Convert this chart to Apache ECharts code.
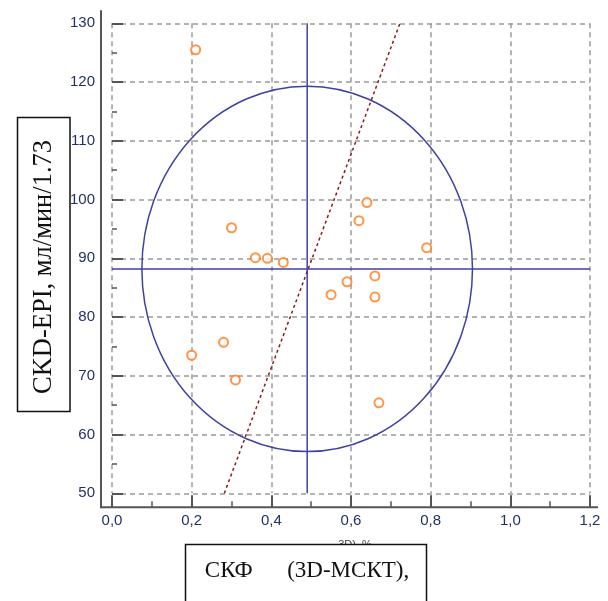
<!DOCTYPE html>
<html><head><meta charset="utf-8">
<script src="https://cdn.jsdelivr.net/npm/echarts@6/dist/echarts.min.js"></script>
<style>html,body{margin:0;padding:0;background:#fff}#c{width:608px;height:601px}</style>
</head><body><div id="c"></div>
<script>
// data
const xValues = [0.21, 0.30, 0.36, 0.39, 0.43, 0.64, 0.62, 0.79, 0.66, 0.59, 0.55, 0.66, 0.20, 0.28, 0.31, 0.67];
const yValues = [125.5, 95.2, 90.1, 90.0, 89.3, 99.5, 96.4, 91.8, 87.0, 86.0, 83.8, 83.4, 73.5, 75.7, 69.3, 65.4];
const xTickLabels = ['0,0', '0,2', '0,4', '0,6', '0,8', '1,0', '1,2'];
const yTickLabels = ['50', '60', '70', '80', '90', '100', '110', '120', '130'];
const ellipseCenter = [0.49, 88.2];
const ellipseRadii = [0.415, 31.1];
const meanXLine = [[0.49, 50], [0.49, 130]];
const meanYLine = [[0, 88.2], [1.2, 88.2]];
const regressionLine = [[0.282, 50], [0.723, 130]];
const yTitle = 'CKD-EPI, мл/мин/1.73';
const xTitle = 'СКФ      (3D-МСКТ),';
const xHiddenTitle = '3D), %';

const points = xValues.map((x, i) => [x, yValues[i]]);
const chart = echarts.init(document.getElementById('c'), null, {renderer: 'canvas'});
const tickColor = '#555';
const labelColor = '#22306a';
const gridStyle = {color: '#9a9a9a', type: [5, 4], width: 1.5};

chart.setOption({
  animation: false,
  backgroundColor: '#fff',
  grid: {left: 112, right: 18, top: 23.3, bottom: 107.7},
  xAxis: {
    type: 'value', min: 0, max: 1.2, interval: 0.2, offset: 14,
    axisLine: {show: false},
    axisTick: {inside: true, length: 12, lineStyle: {color: tickColor, width: 2}},
    minorTick: {show: true, splitNumber: 2, length: 6, lineStyle: {color: tickColor, width: 1.5}},
    axisLabel: {color: labelColor, fontSize: 15, fontFamily: 'Liberation Sans', margin: 6,
      formatter: v => xTickLabels[Math.round(v / 0.2)]},
    splitLine: {show: true, lineStyle: gridStyle}
  },
  yAxis: {
    type: 'value', min: 50, max: 130, interval: 10, offset: 11,
    axisLine: {show: false},
    axisTick: {inside: true, length: 11, lineStyle: {color: tickColor, width: 2}},
    minorTick: {show: true, splitNumber: 2, length: 5, lineStyle: {color: tickColor, width: 1.5}},
    axisLabel: {color: labelColor, fontSize: 15, fontFamily: 'Liberation Sans', margin: 6,
      formatter: v => yTickLabels[Math.round((v - 50) / 10)]},
    splitLine: {show: true, lineStyle: gridStyle}
  },
  series: [
    {
      type: 'custom', silent: true, z: 3,
      data: [[ellipseCenter[0], ellipseCenter[1], ellipseRadii[0], ellipseRadii[1]]],
      renderItem: function (params, api) {
        const cx = api.value(0), cy = api.value(1), rx = api.value(2), ry = api.value(3);
        const c = api.coord([cx, cy]);
        const px = api.coord([cx + rx, cy]);
        const py = api.coord([cx, cy + ry]);
        const a = px[0] - c[0], b = c[1] - py[1];
        const d = 'M ' + (c[0] - a) + ' ' + c[1] +
          ' A ' + a + ' ' + b + ' 0 1 0 ' + (c[0] + a) + ' ' + c[1] +
          ' A ' + a + ' ' + b + ' 0 1 0 ' + (c[0] - a) + ' ' + c[1] + ' Z';
        return {type: 'path', shape: {pathData: d},
          style: {fill: 'none', stroke: '#3f42a0', lineWidth: 1.5}};
      }
    },
    {type: 'line', data: meanXLine, symbol: 'none', z: 3,
      lineStyle: {color: '#3f42a0', width: 1.5}},
    {type: 'line', data: meanYLine, symbol: 'none', z: 3,
      lineStyle: {color: '#3f42a0', width: 1.5}},
    {type: 'line', data: regressionLine, symbol: 'none', z: 4,
      lineStyle: {color: '#8b1a1a', width: 1.5, type: [3, 3]}},
    {type: 'scatter', data: points, symbol: 'emptyCircle', symbolSize: 9, z: 5,
      itemStyle: {color: '#ff7a1a', borderColor: '#ff7a1a', borderWidth: 1.6}}
  ]
});

// axis frame lines placed from the library's scales
const p0 = chart.convertToPixel({gridIndex: 0}, [0, 50]);
const p1 = chart.convertToPixel({gridIndex: 0}, [1.2, 130]);
const ax = p0[0] - 11, ay = p0[1] + 14;
chart.setOption({
  graphic: [
    {type: 'line', z: 10, shape: {x1: ax, y1: p1[1] - 13, x2: ax, y2: ay + 1},
      style: {stroke: tickColor, lineWidth: 2}},
    {type: 'line', z: 10, shape: {x1: ax, y1: ay, x2: p1[0] + 8, y2: ay},
      style: {stroke: tickColor, lineWidth: 2}},
    // y-axis title box
    {type: 'rect', z: 20, shape: {x: 17.5, y: 117.5, width: 52.5, height: 294},
      style: {fill: '#fff', stroke: '#111', lineWidth: 1.5}},
    {type: 'text', z: 21, x: 44, y: 267, rotation: Math.PI / 2,
      style: {text: yTitle, font: '26.5px "Liberation Serif"', fill: '#111',
        align: 'center', verticalAlign: 'middle'}},
    // partly hidden original x-axis name
    {type: 'text', z: 15, x: 355, y: 545,
      style: {text: xHiddenTitle, font: '11px "Liberation Sans"', fill: '#444',
        align: 'center', verticalAlign: 'middle'}},
    // x-axis title box
    {type: 'rect', z: 20, shape: {x: 185.5, y: 544.5, width: 241, height: 80},
      style: {fill: '#fff', stroke: '#111', lineWidth: 1.5}},
    {type: 'text', z: 21, x: 307, y: 571,
      style: {text: xTitle, font: '23px "Liberation Serif"', fill: '#111',
        align: 'center', verticalAlign: 'middle'}}
  ]
});
</script></body></html>
